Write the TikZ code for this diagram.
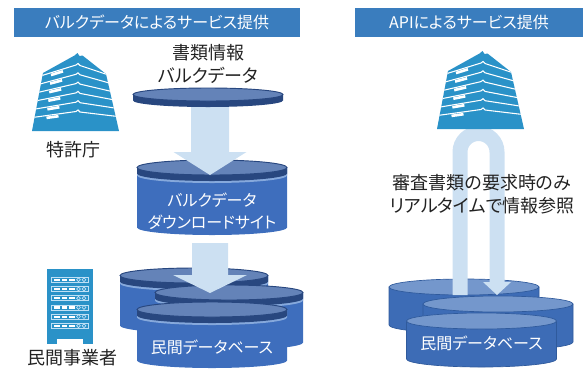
\documentclass[tikz,border=0pt]{standalone}
\usepackage{fontspec}
\setmainfont{Noto Sans CJK JP}[RawFeature=+palt]
\usetikzlibrary{calc}

\definecolor{bannerblue}{HTML}{3A7DBE}
\definecolor{iconblue}{HTML}{2A92C8}
\definecolor{iconline}{HTML}{BFE0F5}
\definecolor{arrowblue}{HTML}{CCE0F2}
\definecolor{cantop}{HTML}{6483B8}
\definecolor{canband}{HTML}{28477F}
\definecolor{canstripe}{HTML}{86A9DC}
\definecolor{canbody}{HTML}{3E6EBD}
\definecolor{apitop}{HTML}{7497CC}
\definecolor{apibody}{HTML}{3D6CB6}
\definecolor{apiedge}{HTML}{2F5A9C}
\definecolor{inkgray}{HTML}{222222}

\tikzset{
  banner/.style={fill=bannerblue, inner sep=0pt, text=white,
    font=\fontsize{12}{14}\selectfont},
  labeltext/.style={text=inkgray, align=center, inner sep=0pt,
    font=\fontsize{13.5}{17.25}\selectfont},
  cantext/.style={text=white, align=center, inner sep=0pt,
    font=\fontsize{12}{16.5}\selectfont},
}

% cylinder with dark collar: centre x, top-ellipse y, x radius, y radius, height
\newcommand\collarcan[5]{%
  \fill[canbody] (#1-#3,#2) -- (#1-#3,#2+#5)
    arc[start angle=180,end angle=0,x radius=#3,y radius=#4] -- (#1+#3,#2) -- cycle;
  \fill[canstripe] (#1-#3,#2) -- (#1-#3,#2+8)
    arc[start angle=180,end angle=0,x radius=#3,y radius=#4] -- (#1+#3,#2) -- cycle;
  \fill[canband] (#1-#3,#2) -- (#1-#3,#2+6)
    arc[start angle=180,end angle=0,x radius=#3,y radius=#4] -- (#1+#3,#2) -- cycle;
  \filldraw[fill=cantop, draw=canband, line width=0.7pt] (#1,#2) ellipse[x radius=#3,y radius=#4];
}
% plain cylinder: centre x, top-ellipse y, x radius, y radius, height
\newcommand\plaincan[5]{%
  \filldraw[fill=apibody, draw=apiedge, line width=0.5pt] (#1-#3,#2) -- (#1-#3,#2+#5)
    arc[start angle=180,end angle=0,x radius=#3,y radius=#4] -- (#1+#3,#2) -- cycle;
  \filldraw[fill=apitop, draw=apiedge, line width=0.5pt] (#1,#2) ellipse[x radius=#3,y radius=#4];
}
% block arrow: start, tip, shaft half width, head half width, head length
\newcommand\blockarrow[5]{%
  \fill[arrowblue] ($(#1)+(-#3,0)$) -- ($(#2)+(-#3,-#5)$) -- ($(#2)+(-#4,-#5)$) -- (#2)
    -- ($(#2)+(#4,-#5)$) -- ($(#2)+(#3,-#5)$) -- ($(#1)+(#3,0)$) -- cycle;
}
% office building icon
\newcommand\officebuilding{%
  \fill[iconblue] (32,131) -- (43,73) -- (74.5,55.5) -- (77.5,53) -- (79.5,56) -- (82.5,55.5)
    -- (106,74) -- (119,131) -- cycle;
  \begin{scope}
    \clip (32,131) -- (43,73) -- (74.5,55.5) -- (77.5,53) -- (79.5,56) -- (82.5,55.5)
      -- (106,74) -- (119,131) -- cycle;
    \foreach \i in {0,...,5}{
      \pgfmathsetmacro\yr{65+9.3*\i}
      \pgfmathsetmacro\yl{\yr+11-\i}
      \pgfmathsetmacro\yq{\yr+10-\i}
      \pgfmathsetmacro\xl{43-0.19*(\yl-73)-2}
      \pgfmathsetmacro\xq{106+0.224*(\yq-73)+2}
      \draw[white, line width=0.8pt] (\xl,\yl) -- (76,\yr) -- (78,\yr-1.5) -- (80,\yr+0.5) -- (\xq,\yq);
      \pgfmathsetmacro\xa{51-0.9*\i}
      \pgfmathsetmacro\xb{63-0.9*\i}
      \pgfmathsetmacro\ya{\yl+(\xa-\xl)*(\yr-\yl)/(76-\xl)+2.3}
      \pgfmathsetmacro\yb{\yl+(\xb-\xl)*(\yr-\yl)/(76-\xl)+2.3}
      \draw[white, line width=2pt] (\xa,\ya) -- (\xb,\yb);
    }
  \end{scope}
}

\begin{document}
\begin{tikzpicture}[x=0.75pt, y=-0.75pt]
\useasboundingbox (0,0) rectangle (584,372);

% ---------- bulk data service ----------
\node[banner, minimum width=214.5pt, minimum height=21.75pt] (bulktitle) at (157,22.5)
  {バルクデータによるサービス提供};

\officebuilding
\node[labeltext] (jpo) at (73,150) {特許庁};

\node[labeltext] (bulkdata) at (208,63.5) {書類情報\\バルクデータ};

\collarcan{212}{167.5}{75}{7.5}{60}
\node[cantext] (site) at (212,211) {バルクデータ\\ダウンロードサイト};

\coordinate (a1s) at (210,106);
\coordinate (a1t) at (210,175);
\blockarrow{a1s}{a1t}{19}{36.5}{23}

% thin disk holding the bulk documents
\fill[canband] (133,94.5) -- (133,100.5)
  arc[start angle=180,end angle=0,x radius=75,y radius=6.5] -- (283,94.5) -- cycle;
\filldraw[fill=cantop, draw=canband, line width=0.7pt] (208,94.5) ellipse[x radius=75,y radius=6.5];

% private databases
\collarcan{194}{275.5}{74}{7.5}{50}
\collarcan{229}{292.5}{74}{7.5}{50}
\coordinate (a2s) at (210,243);
\coordinate (a2t) at (210,293);
\blockarrow{a2s}{a2t}{18}{37}{18}
\collarcan{212}{309.5}{75}{7.5}{51}
\node[cantext] (pdb1) at (212,347) {民間データベース};

% server rack
\fill[iconblue] (47,269) rectangle (93,344);
\fill[white] (57,338.5) rectangle (83,345);
\foreach \i in {0,...,5}{
  \pgfmathsetmacro\ry{277.3+9.2*\i}
  \draw[iconline, line width=0.6pt] (51.3,\ry) rectangle (88.7,\ry+5);
  \fill[white] (54,\ry+1.4) rectangle (59.5,\ry+3.6);
  \fill[white] (61.5,\ry+1.4) rectangle (67,\ry+3.6);
  \fill[white] (69,\ry+1.4) rectangle (74.5,\ry+3.6);
  \draw[iconline, line width=0.5pt] (78.5,\ry+2.5) circle[radius=1.9];
  \draw[iconline, line width=0.5pt] (84,\ry+2.5) circle[radius=1.9];
}
\node[labeltext] (biz) at (72,358) {民間事業者};

% ---------- API service ----------
\node[banner, minimum width=171pt, minimum height=21.75pt] (apititle) at (469,22.5)
  {APIによるサービス提供};

\plaincan{464}{287}{75}{8}{38}

\coordinate (u1) at (460,295);
\coordinate (u2) at (497,282);
\coordinate (ut) at (497,295);
\draw[arrowblue, line width=11.25pt] (u1) -- (460,152)
  arc[start angle=180,end angle=360,radius=18.5] -- (u2);
\fill[arrowblue] ($(ut)+(-14,-13)$) -- ($(ut)+(14,-13)$) -- (ut) -- cycle;

\begin{scope}[shift={(405,-2)}]
  \officebuilding
\end{scope}

\plaincan{498}{304}{75}{8}{38}
\plaincan{481.5}{321}{75}{8}{38}
\node[cantext] (pdb2) at (481.5,343) {民間データベース};

\node[labeltext] (req) at (482,194) {審査書類の要求時のみ\\リアルタイムで情報参照};
\end{tikzpicture}
\end{document}
